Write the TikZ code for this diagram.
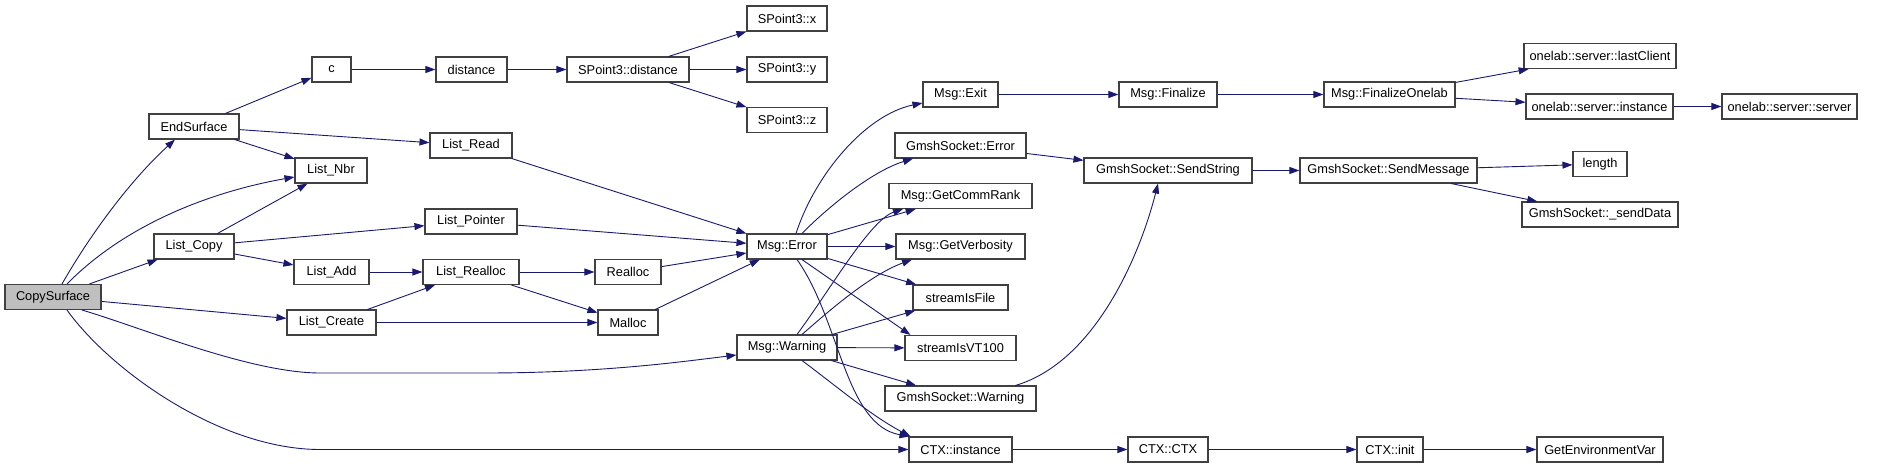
\documentclass[tikz,border=0pt]{standalone}
\usepackage{fontspec}
\setmainfont{Liberation Sans}
\usetikzlibrary{arrows.meta}
\definecolor{edgec}{HTML}{191970}
\definecolor{boxc}{HTML}{404040}
\definecolor{rootc}{HTML}{BFBFBF}
\begin{document}
\begin{tikzpicture}[x=1pt,y=-1pt,
  fn/.style={draw=boxc,line width=1.1pt,fill=white,inner sep=0pt,minimum height=25pt,
    font=\fontsize{12.8}{15}\selectfont,text=black},
  root/.style={fn,fill=rootc},
  call/.style={draw=edgec,line width=0.9pt,-{Triangle[length=10pt,width=7pt]},fill=none}]
\useasboundingbox (0,0) rectangle (1899,468);
% nodes
\node[root,minimum width=96pt] (cs) at (53,297) {CopySurface};
\node[fn,minimum width=90pt] (es) at (194,126.5) {EndSurface};
\node[fn,minimum width=39pt] (c) at (331.5,69.5) {c};
\node[fn,minimum width=72pt] (lnbr) at (331,170.5) {List\_Nbr};
\node[fn,minimum width=80pt] (lcopy) at (194,246.5) {List\_Copy};
\node[fn,minimum width=75pt] (ladd) at (331.5,272) {List\_Add};
\node[fn,minimum width=89pt] (lcreate) at (331.5,322.5) {List\_Create};
\node[fn,minimum width=71pt] (dist) at (471.5,69.5) {distance};
\node[fn,minimum width=82pt] (lread) at (471,145.5) {List\_Read};
\node[fn,minimum width=92pt] (lptr) at (471,221.5) {List\_Pointer};
\node[fn,minimum width=96pt] (lrealloc) at (471,272) {List\_Realloc};
\node[fn,minimum width=122pt] (spd) at (628,69.5) {SPoint3::distance};
\node[fn,minimum width=66pt] (realloc) at (628,272) {Realloc};
\node[fn,minimum width=60pt] (malloc) at (628,322.5) {Malloc};
\node[fn,minimum width=80pt] (spx) at (787,18.5) {SPoint3::x};
\node[fn,minimum width=80pt] (spy) at (787,69.5) {SPoint3::y};
\node[fn,minimum width=80pt] (spz) at (787,120) {SPoint3::z};
\node[fn,minimum width=80pt] (merr) at (787,246.5) {Msg::Error};
\node[fn,minimum width=100pt] (mwarn) at (787,347.5) {Msg::Warning};
\node[fn,minimum width=75pt] (mexit) at (960.5,94.5) {Msg::Exit};
\node[fn,minimum width=131pt] (gse) at (960.5,145.5) {GmshSocket::Error};
\node[fn,minimum width=143pt] (mgcr) at (960.5,196) {Msg::GetCommRank};
\node[fn,minimum width=129pt] (mgv) at (960.5,246.5) {Msg::GetVerbosity};
\node[fn,minimum width=95pt] (sif) at (960.5,297.5) {streamIsFile};
\node[fn,minimum width=111pt] (svt) at (960.5,348) {streamIsVT100};
\node[fn,minimum width=151pt] (gsw) at (960.5,398.5) {GmshSocket::Warning};
\node[fn,minimum width=103pt] (ctxi) at (960.5,449.5) {CTX::instance};
\node[fn,minimum width=98pt] (mfin) at (1168,94.5) {Msg::Finalize};
\node[fn,minimum width=168pt] (gss) at (1168,170.5) {GmshSocket::SendString};
\node[fn,minimum width=80pt] (ctxc) at (1168,449.5) {CTX::CTX};
\node[fn,minimum width=131pt] (mfo) at (1389.5,94.5) {Msg::FinalizeOnelab};
\node[fn,minimum width=177pt] (gsm) at (1388.5,170.5) {GmshSocket::SendMessage};
\node[fn,minimum width=66pt] (ctxinit) at (1390,449.5) {CTX::init};
\node[fn,minimum width=152pt] (olc) at (1600,56) {onelab::server::lastClient};
\node[fn,minimum width=147pt] (osi) at (1599.5,106.5) {onelab::server::instance};
\node[fn,minimum width=135pt] (oss) at (1789.5,106.5) {onelab::server::server};
\node[fn,minimum width=54pt] (len) at (1600,164) {length};
\node[fn,minimum width=156pt] (gsd) at (1600,214.5) {GmshSocket::\_sendData};
\node[fn,minimum width=126pt] (gev) at (1600,449.5) {GetEnvironmentVar};
% edges from CopySurface
\draw[call] ([xshift=9pt]cs.north) .. controls +(28,-49) and +(-45,41) .. ([xshift=-19pt]es.south);
\draw[call] ([xshift=14pt]cs.north) .. controls +(58,-59) and +(-85,15) .. ([yshift=-6.5pt]lnbr.west);
\draw[call] (cs) -- (lcopy);
\draw[call] (cs) -- (lcreate);
\draw[call] ([xshift=29pt]cs.south) .. controls (140,327) and (250,373) .. (320,373) -- (485,373)
  .. controls (600,373) and (680,362) .. ([yshift=-7.5pt]mwarn.west);
\draw[call] ([xshift=14pt]cs.south) .. controls (110,370) and (220,449.5) .. (320,449.5) -- (ctxi.west);
% EndSurface, List_Copy
\draw[call] (es) -- (c);
\draw[call] (es) -- (lread);
\draw[call] (es) -- (lnbr);
\draw[call] (lcopy) -- (lnbr);
\draw[call] (lcopy) -- (lptr);
\draw[call] (lcopy) -- (ladd);
% c chain
\draw[call] (c) -- (dist);
\draw[call] (dist) -- (spd);
\draw[call] (spd) -- (spx);
\draw[call] (spd) -- (spy);
\draw[call] (spd) -- (spz);
% list functions
\draw[call] (lread) -- (merr);
\draw[call] (lptr) -- (merr);
\draw[call] (ladd) -- (lrealloc);
\draw[call] (lcreate) -- (lrealloc);
\draw[call] (lcreate) -- (malloc);
\draw[call] (lrealloc) -- (realloc);
\draw[call] (lrealloc) -- (malloc);
\draw[call] (realloc) -- (merr);
\draw[call] (malloc) -- (merr);
% Msg::Error
\draw[call] ([xshift=9pt]merr.north) .. controls (815,175) and (865,115) .. ([yshift=-8.5pt]mexit.west);
\draw[call] ([xshift=15pt]merr.north) .. controls (825,210) and (870,172) .. ([xshift=-47.5pt]gse.south);
\draw[call] (merr) -- (mgcr);
\draw[call] (merr) -- (mgv);
\draw[call] (merr) -- (sif);
\draw[call] ([xshift=15pt]merr.south) -- ([xshift=6pt]svt.north west);
\draw[call] ([xshift=10pt]merr.south) .. controls (840,320) and (845,425) .. ([xshift=1pt]ctxi.north west);
% Msg::Warning
\draw[call] ([xshift=10pt]mwarn.north) .. controls (830,290) and (870,220) .. ([xshift=-57.5pt]mgcr.south);
\draw[call] ([xshift=15pt]mwarn.north) .. controls (830,310) and (870,275) .. ([xshift=-48.5pt]mgv.south);
\draw[call] (mwarn) -- (sif);
\draw[call] (mwarn) -- (svt);
\draw[call] (mwarn) -- (gsw);
\draw[call] ([xshift=15pt]mwarn.south) .. controls (835,385) and (870,415) .. ([xshift=2pt]ctxi.north west);
% right part
\draw[call] (mexit) -- (mfin);
\draw[call] (gse) -- (gss);
\draw[call] ([xshift=55pt]gsw.north) .. controls (1095,362) and (1140,255) .. ([xshift=-10pt]gss.south);
\draw[call] (ctxi) -- (ctxc);
\draw[call] (mfin) -- (mfo);
\draw[call] (gss) -- (gsm);
\draw[call] (ctxc) -- (ctxinit);
\draw[call] (mfo) -- (olc);
\draw[call] (mfo) -- (osi);
\draw[call] (osi) -- (oss);
\draw[call] (gsm) -- (len);
\draw[call] (gsm) -- (gsd);
\draw[call] (ctxinit) -- (gev);
\end{tikzpicture}
\end{document}
